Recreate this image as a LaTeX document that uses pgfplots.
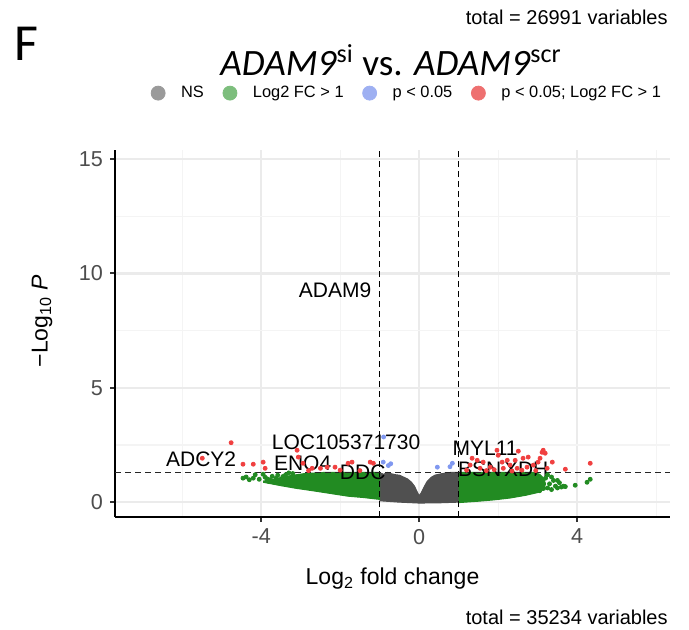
\documentclass[border=0pt]{standalone}
\usepackage{fontspec}
\setmainfont{Liberation Sans}
\newfontfamily\carlito{Carlito}
\usepackage{pgfplots}
\pgfplotsset{compat=1.18}
\definecolor{nsgray}{HTML}{505050}
\definecolor{fcgreen}{HTML}{228B22}
\definecolor{pblue}{HTML}{8098F0}
\definecolor{pred}{HTML}{F04040}
\definecolor{gridmaj}{HTML}{EBEBEB}
\definecolor{gridmin}{HTML}{F4F4F4}
\definecolor{ticklab}{HTML}{4D4D4D}
\definecolor{legns}{HTML}{9A9A9A}
\definecolor{legfc}{HTML}{7DBE7D}
\definecolor{legp}{HTML}{9EB0F2}
\definecolor{legboth}{HTML}{EE7070}
\begin{document}
\begin{tikzpicture}
\path[use as bounding box] (0,0) rectangle (344.5pt,314.5pt);
\begin{axis}[
  at={(57.5pt,56pt)}, anchor=south west,
  scale only axis, width=277.5pt, height=183.5pt,
  xmin=-7.7, xmax=6.35, ymin=-0.65, ymax=15.4,
  axis x line*=bottom, axis y line*=left,
  axis line style={black, line width=1pt},
  xtick={-4,0,4}, ytick={0,5,10,15},
  minor xtick={-6,-2,2,6}, minor ytick={2.5,7.5,12.5},
  grid=both,
  major grid style={gridmaj, line width=1.2pt},
  minor grid style={gridmin, line width=0.6pt},
  tick align=outside,
  major tick length=2.5pt, minor tick length=0pt,
  major tick style={line width=1pt, color=black!80},
  tick label style={font=\fontsize{10.8}{12}\selectfont, color=ticklab},
  /pgf/number format/assume math mode=true,
  xlabel={Log\textsubscript{2} fold change},
  ylabel={−Log\textsubscript{10} \textit{P}},
  label style={font=\fontsize{11.5}{13}\selectfont},
  xlabel style={at={(axis description cs:0.5,-0.168)}, anchor=center},
  ylabel style={at={(axis description cs:-0.1315,0.534)}, anchor=center, rotate=0},
  legend style={at={(axis description cs:0.528,1.155)}, anchor=center, draw=none, fill=none,
    font=\fontsize{8.2}{10}\selectfont,
    /tikz/every odd column/.append style={column sep=6pt},
    /tikz/every even column/.append style={column sep=7.5pt}},
  legend columns=4,
]
% legend entries
\addlegendimage{only marks, mark=*, mark size=3.5pt, color=legns}
\addlegendentry{NS}
\addlegendimage{only marks, mark=*, mark size=3.5pt, color=legfc}
\addlegendentry{Log2 FC > 1}
\addlegendimage{only marks, mark=*, mark size=3.5pt, color=legp}
\addlegendentry{p < 0.05}
\addlegendimage{only marks, mark=*, mark size=3.5pt, color=legboth}
\addlegendentry{p < 0.05; Log2 FC > 1}

% dense NS cloud
\addplot[fill=nsgray, draw=nsgray, line width=0.5pt, forget plot] coordinates {
(-1.0,1.28) (-0.9,1.22) (-0.8,1.3) (-0.7,1.24) (-0.6,1.2) (-0.5,1.18) (-0.4,1.1) (-0.3,1.02)
(-0.2,0.88) (-0.12,0.7) (-0.05,0.45) (0.0,0.28) (0.05,0.4) (0.12,0.65) (0.2,0.9) (0.3,1.08)
(0.4,1.18) (0.5,1.22) (0.65,1.27) (0.8,1.3) (1.0,1.3) (1.0,0.0) (0.5,-0.03) (0.0,-0.04)
(-0.5,0.0) (-1.0,0.06)};
% dense Log2 FC clouds
\addplot[fill=fcgreen, draw=fcgreen, line width=0.5pt, forget plot] coordinates {
(-3.95,0.92) (-3.7,1.0) (-3.5,1.08) (-3.3,1.15) (-3.1,1.2) (-2.9,1.25) (-2.7,1.27) (-2.4,1.3)
(-1.0,1.3) (-1.0,0.12) (-1.4,0.2) (-1.8,0.26) (-2.25,0.38) (-2.7,0.5) (-3.1,0.6) (-3.5,0.72)
(-3.95,0.87)};
\addplot[fill=fcgreen, draw=fcgreen, line width=0.5pt, forget plot] coordinates {
(1.0,1.3) (2.9,1.3) (3.05,1.22) (3.15,1.05) (3.2,0.8) (3.15,0.55) (3.0,0.42) (2.7,0.3)
(2.3,0.18) (1.9,0.1) (1.5,0.04) (1.0,-0.02)};
% sparse Log2 FC points
\addplot[only marks, mark=*, mark size=1pt, color=fcgreen, forget plot] coordinates {
(-4.46,1.05) (-4.38,1.1) (-4.3,0.98) (-4.2,1.05) (-4.15,1.2) (-4.05,1.0) (-3.95,1.22)
(-3.9,1.09) (-3.85,1.02) (-3.78,0.98) (-3.72,1.13) (-3.62,1.05) (-3.58,1.18) (-3.45,1.12)
(-3.38,1.2) (-3.3,1.28) (-3.2,1.25) (-3.8,0.9) (-3.6,0.85) (-3.4,0.8) (-3.2,0.72)
(3.0,1.1) (3.1,0.9) (3.15,0.6) (3.2,1.05) (3.3,0.8) (3.35,0.55) (3.4,0.95) (3.45,0.7)
(3.5,0.62) (3.55,0.85) (3.6,0.66) (3.65,0.7) (3.7,0.68) (3.95,0.74) (4.25,0.87) (4.33,1.0)
(3.25,1.2) (3.05,0.5) (3.35,1.1) (3.25,0.62) (3.5,0.95)};
% p < 0.05 only
\addplot[only marks, mark=*, mark size=1pt, color=pblue, forget plot] coordinates {
(-0.91,1.75) (-0.78,1.6) (-0.72,1.68) (-0.9,2.85) (0.46,1.53) (0.84,1.7) (0.78,1.55)};
% p < 0.05 and Log2 FC > 1
\addplot[only marks, mark=*, mark size=1pt, color=pred, forget plot] coordinates {
(-5.49,1.92) (-4.76,2.6) (-4.46,1.66) (-4.2,1.66) (-3.95,1.75) (-3.9,1.48) (-3.09,2.27)
(-3.06,1.97) (-2.94,1.7) (-2.71,1.48) (-2.5,1.48) (-2.33,1.53) (-2.13,1.53) (-1.8,1.7)
(-1.7,1.75) (-1.24,1.75) (-1.16,1.7) (-2.0,1.4) (-1.5,1.38) (-2.8,1.38)
(1.29,1.62) (1.34,1.92) (1.47,1.83) (1.54,1.48) (1.62,1.75) (1.8,1.53) (1.97,2.27) (2.0,2.05)
(2.1,1.75) (2.13,1.48) (2.23,1.83) (2.3,1.62) (2.43,1.83) (2.48,1.48) (2.51,2.23) (2.63,1.92)
(2.73,1.53) (2.76,1.97) (2.89,1.62) (3.01,1.75) (3.06,1.92) (3.11,2.18) (3.14,2.27) (3.19,2.14)
(3.24,1.48) (3.37,1.75) (3.7,1.44) (4.33,1.7) (1.2,1.4) (1.7,1.38) (1.9,1.42) (2.35,1.36)
(2.6,1.4) (2.95,1.38)};
% cut-off lines
\addplot[black, line width=0.6pt, dash pattern=on 3pt off 2pt, forget plot] coordinates {(-1,-0.65) (-1,15.4)};
\addplot[black, line width=0.6pt, dash pattern=on 3pt off 2pt, forget plot] coordinates {(1,-0.65) (1,15.4)};
\addplot[black!85, line width=0.6pt, dash pattern=on 3pt off 2pt, forget plot] coordinates {(-7.7,1.301) (6.35,1.301)};
% gene labels
\begin{scope}[every node/.style={font=\fontsize{10.5}{12}\selectfont, inner sep=0pt}]
\node at (axis cs:-2.13,9.26) {ADAM9};
\node at (axis cs:-1.85,2.62) {LOC105371730};
\node at (axis cs:-5.52,1.86) {ADCY2};
\node at (axis cs:-2.95,1.68) {ENO4};
\node at (axis cs:-1.43,1.29) {DDC};
\node at (axis cs:1.67,2.36) {MYL11};
\node at (axis cs:1.53,1.44) {BSN};
\node at (axis cs:2.71,1.44) {XDH};
\end{scope}
\end{axis}
\node[font={\carlito\fontsize{26}{30}\selectfont}, anchor=base, inner sep=0pt] at (13pt,284.5pt) {F};
\node[font={\carlito\fontsize{18.6}{22}\selectfont}, anchor=base, inner sep=0pt] at (195.5pt,277pt) {\textit{ADAM9}\textsuperscript{si} vs. \textit{ADAM9}\textsuperscript{scr}};
\node[font=\fontsize{10}{12}\selectfont, anchor=base east, inner sep=0pt] at (334pt,302.5pt) {total = 26991 variables};
\node[font=\fontsize{10}{12}\selectfont, anchor=base east, inner sep=0pt] at (334pt,2.5pt) {total = 35234 variables};
\end{tikzpicture}
\end{document}
